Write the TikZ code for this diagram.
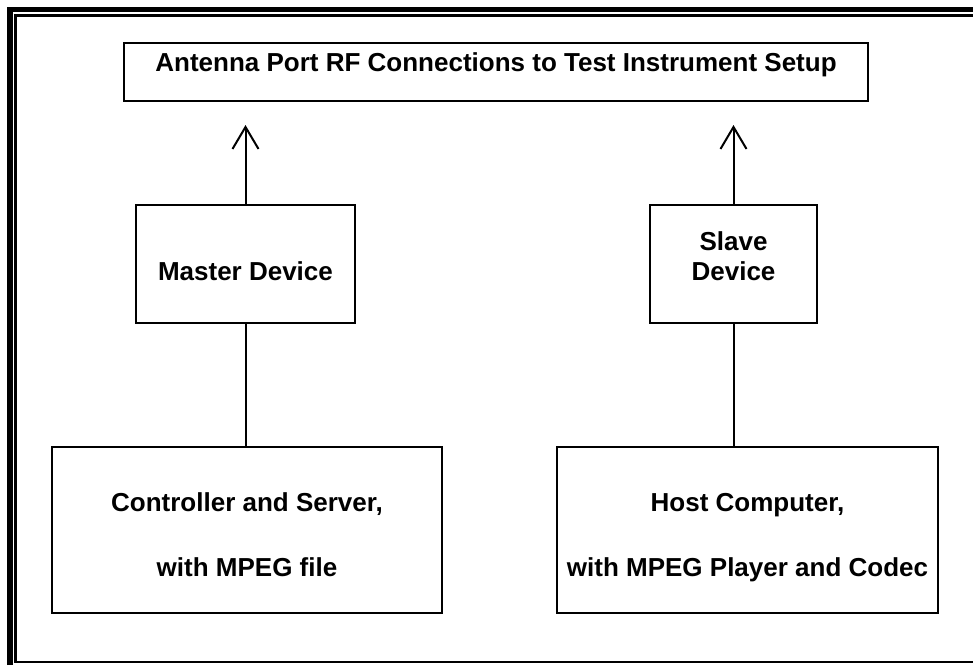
\documentclass[tikz,border=0pt]{standalone}
\usepackage{fontspec}
\setmainfont{Liberation Sans}
\usetikzlibrary{arrows.meta}

\begin{document}
\begin{tikzpicture}[x=1pt,y=-1pt,
		box/.style={draw,line width=2pt,inner sep=2pt,align=center,font=\bfseries\fontsize{26}{30}\selectfont},
		link/.style={line width=2pt},
		up/.style={link,-{Straight Barb[length=22pt,width=26pt,line width=2pt]}}]
	\useasboundingbox (0,0) rectangle (973,665);
	\draw[line width=6pt] (10,665) -- (10,7);
	\draw[line width=5pt] (7,9.5) -- (973,9.5);
	\draw[line width=2.2pt] (973,15.5) -- (15.5,15.5) -- (15.5,662) -- (973,662);
	\node[box,minimum width=744pt,minimum height=58pt,text height=19pt,text depth=21pt] (rf) at (496,72) {Antenna Port RF Connections to Test Instrument Setup};
	\node[box,minimum width=219pt,minimum height=118pt,text height=32pt,text depth=0pt] (master) at (245.5,264) {Master Device};
	\node[box,minimum width=167pt,minimum height=118pt,text depth=16pt] (slave) at (733.5,264) {Slave\\Device};
	\node[box,minimum width=390pt,minimum height=166pt,text height=92pt,text depth=0pt] (ctrl) at (247,530) {Controller and Server,\\[35pt]with MPEG file};
	\node[box,minimum width=381pt,minimum height=166pt,text height=92pt,text depth=0pt] (host) at (747.5,530) {Host Computer,\\[35pt]with MPEG Player and Codec};
	\coordinate (mtip) at (245.5,125);
	\coordinate (stip) at (733.5,125);
	\draw[up] (master.north) -- (mtip);
	\draw[up] (slave.north) -- (stip);
	\draw[link] (master.south) -- (master.south |- ctrl.north);
	\draw[link] (slave.south) -- (slave.south |- host.north);
\end{tikzpicture}
\end{document}
